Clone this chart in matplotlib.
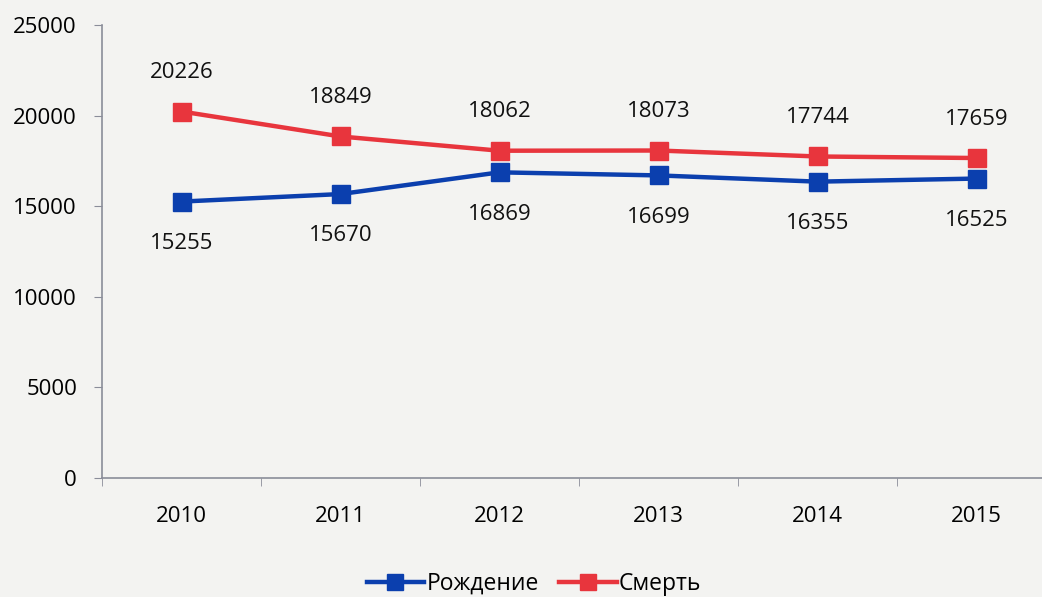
import numpy as np
import matplotlib
matplotlib.use("Agg")
import matplotlib.pyplot as plt

years = ['2010', '2011', '2012', '2013', '2014', '2015']
births = [15255, 15670, 16869, 16699, 16355, 16525]
deaths = [20226, 18849, 18062, 18073, 17744, 17659]

plt.rcParams['font.family'] = ['Open Sans', 'DejaVu Sans']

bg = '#f3f3f1'
fig = plt.figure(figsize=(10.42, 5.97), dpi=100, facecolor=bg)
ax = fig.add_axes([102/1042, 1 - 478/597, 954/1042, (478 - 25)/597])
ax.set_facecolor(bg)

x = np.arange(len(years))
ax.plot(x, births, color='#0b3fae', linewidth=3.2, marker='s', markersize=13.5,
        label='Рождение')
ax.plot(x, deaths, color='#e8353d', linewidth=3.2, marker='s', markersize=13.5,
        label='Смерть')

for i in x:
    ax.annotate(str(births[i]), (i, births[i]), xytext=(0, -30), textcoords='offset points',
                ha='center', va='center', fontsize=16, color='#111111')
    ax.annotate(str(deaths[i]), (i, deaths[i]), xytext=(0, 28), textcoords='offset points',
                ha='center', va='center', fontsize=16, color='#111111')

ax.set_xlim(-0.5, len(years) - 0.5)
ax.set_ylim(0, 25000)
ax.set_yticks(np.arange(0, 25001, 5000))
ax.set_xticks(x)
ax.set_xticklabels(years)
ax.set_xticks(np.arange(-0.5, len(years), 1), minor=True)
ax.tick_params(axis='x', which='major', length=0, pad=20, labelsize=16)
ax.tick_params(axis='x', which='minor', length=6, color='#8a8d99', direction='out')
ax.tick_params(axis='y', length=6, color='#8a8d99', labelsize=16, pad=12)

for s in ['top', 'right']:
    ax.spines[s].set_visible(False)
for s in ['left', 'bottom']:
    ax.spines[s].set_color('#8a8d99')
    ax.spines[s].set_linewidth(1.2)

fig.legend(loc='center', bbox_to_anchor=(534/1042, 1 - 584/597), ncol=2, frameon=False,
           fontsize=16.5, handlelength=2.5, columnspacing=0.9, handletextpad=0.1,
           markerscale=0.85)

fig.savefig('out.png', dpi=100, facecolor=bg)
